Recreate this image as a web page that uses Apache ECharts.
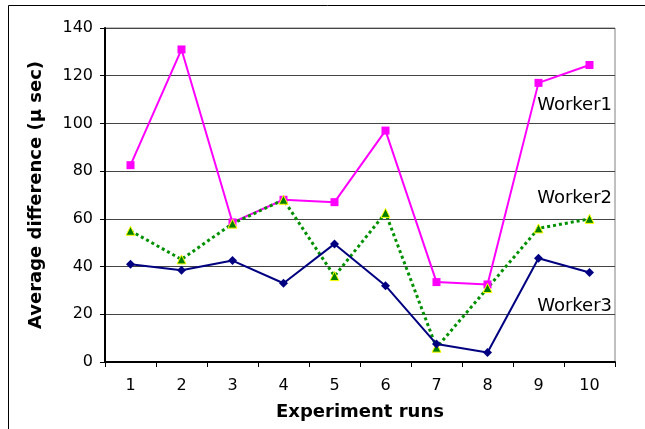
<!DOCTYPE html>
<html>
<head>
<meta charset="utf-8">
<script src="https://cdn.jsdelivr.net/npm/echarts@6/dist/echarts.min.js"></script>
<style>
html, body { margin: 0; padding: 0; background: #fff; }
#main { width: 645px; height: 429px; }
</style>
</head>
<body>
<div id="main"></div>
<script>
var runs = ['1', '2', '3', '4', '5', '6', '7', '8', '9', '10'];
var worker1 = [82.5, 131, 58.5, 68, 67, 97, 33.5, 32.5, 117, 124.5];
var worker2 = [55, 43, 58, 68, 36, 62.5, 6, 31, 56, 60];
var worker3 = [41, 38.5, 42.5, 33, 49.5, 32, 7.5, 4, 43.5, 37.5];
var yTicks = [0, 140, 20];   // min, max, step

var chart = echarts.init(document.getElementById('main'));
var font = 'DejaVu Sans';

var option = {
    backgroundColor: '#fff',
    animation: false,
    grid: {
        left: 105, right: 30, top: 28, bottom: 67,
        show: true,
        borderColor: '#808080',
        borderWidth: 1
    },
    xAxis: {
        type: 'category',
        data: runs,
        boundaryGap: true,
        name: 'Experiment runs',
        nameLocation: 'middle',
        nameGap: 41,
        nameTextStyle: { fontFamily: font, fontWeight: 'bold', fontSize: 18, color: '#000' },
        axisLine: { lineStyle: { color: '#000', width: 2 } },
        axisTick: { show: true, length: 5, lineStyle: { color: '#000', width: 1 } },
        axisLabel: { fontFamily: font, fontSize: 16, color: '#000', margin: 16 }
    },
    yAxis: {
        type: 'value',
        min: yTicks[0], max: yTicks[1], interval: yTicks[2],
        name: 'Average difference (μ sec)',
        nameLocation: 'middle',
        nameGap: 60,
        nameTextStyle: { fontFamily: font, fontWeight: 'bold', fontSize: 18, color: '#000' },
        axisLine: { show: true, lineStyle: { color: '#000', width: 2 } },
        axisTick: { show: true, length: 5, lineStyle: { color: '#000' } },
        axisLabel: { fontFamily: font, fontSize: 16, color: '#000', margin: 12 },
        splitLine: { lineStyle: { color: '#444', width: 1 } }
    },
    series: [
        {
            name: 'Worker1', type: 'line', data: worker1,
            symbol: 'rect', symbolSize: 8,
            lineStyle: { color: '#ff00ff', width: 2 },
            itemStyle: { color: '#ff00ff' }
        },
        {
            name: 'Worker2', type: 'line', data: worker2,
            symbol: 'triangle', symbolSize: 9,
            lineStyle: { color: '#009000', width: 3, type: [3, 3] },
            itemStyle: { color: '#008000', borderColor: '#ffff00', borderWidth: 1 }
        },
        {
            name: 'Worker3', type: 'line', data: worker3,
            symbol: 'diamond', symbolSize: 9,
            lineStyle: { color: '#000080', width: 2 },
            itemStyle: { color: '#000080' }
        }
    ],
    graphic: [
        { type: 'rect', shape: { x: 8.5, y: 5.5, width: 700, height: 500 },
          style: { fill: 'none', stroke: '#000', lineWidth: 1 }, z: -1 },
        { type: 'text', right: 33, top: 96,
          style: { text: 'Worker1', font: '18px "DejaVu Sans"', fill: '#000' } },
        { type: 'text', right: 33, top: 189,
          style: { text: 'Worker2', font: '18px "DejaVu Sans"', fill: '#000' } },
        { type: 'text', right: 33, top: 297,
          style: { text: 'Worker3', font: '18px "DejaVu Sans"', fill: '#000' } }
    ]
};

chart.setOption(option);
window.onresize = function () { chart.resize(); };
</script>
</body>
</html>
